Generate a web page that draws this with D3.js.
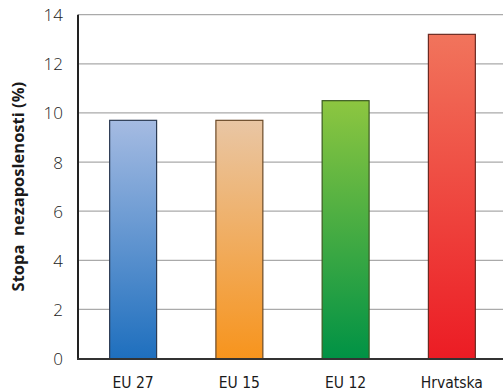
<!DOCTYPE html>
<html>
<head>
<meta charset="utf-8">
<script src="https://cdn.jsdelivr.net/npm/d3@7"></script>
<style>
html,body{margin:0;padding:0;background:#fff;}
svg{display:block;}
</style>
</head>
<body>
<svg id="chart" width="503" height="392"></svg>
<script>
const categories = ["EU 27", "EU 15", "EU 12", "Hrvatska"];
const values = [9.7, 9.7, 10.5, 13.2];
const yTicks = [0, 2, 4, 6, 8, 10, 12, 14];
const topColors = ["#a5bbe2", "#e9c6a4", "#8dc640", "#f1745c"];
const bottomColors = ["#1e6fbe", "#f7941d", "#009245", "#ec1c24"];
const strokeColors = ["#2b3a52", "#6b4a28", "#3a5a20", "#6b2a22"];
const yTitle = "Stopa  nezaposlenosti (%)";

const svg = d3.select("#chart");
const x = d3.scaleBand().domain(categories).range([80, 505]).paddingInner(0.558).paddingOuter(0.279);
const y = d3.scaleLinear().domain([0, 14]).range([358.6, 14.7]);

const defs = svg.append("defs");
categories.forEach((c, i) => {
  const g = defs.append("linearGradient").attr("id", "g" + i)
    .attr("x1", 0).attr("y1", 0).attr("x2", 0).attr("y2", 1);
  g.append("stop").attr("offset", "0%").attr("stop-color", topColors[i]);
  g.append("stop").attr("offset", "100%").attr("stop-color", bottomColors[i]);
});

// gridlines
svg.append("g").selectAll("line").data(yTicks.filter(d => d > 0)).join("line")
  .attr("x1", 78).attr("x2", 503)
  .attr("y1", d => y(d)).attr("y2", d => y(d))
  .attr("stroke", "#aaaaaa").attr("stroke-width", 1.3);

// bars
svg.append("g").selectAll("rect").data(values).join("rect")
  .attr("x", (d, i) => x(categories[i]))
  .attr("width", x.bandwidth())
  .attr("y", d => y(d))
  .attr("height", d => y(0) - y(d))
  .attr("fill", (d, i) => `url(#g${i})`)
  .attr("stroke", (d, i) => strokeColors[i])
  .attr("stroke-width", 1.2);

// y axis
const yAxis = d3.axisLeft(y).tickValues(yTicks).tickSize(0).tickPadding(15);
const ya = svg.append("g").attr("transform", "translate(78,0)").call(yAxis);
ya.select(".domain").remove();
ya.selectAll("text").attr("font-family", "'Open Sans', 'DejaVu Sans', sans-serif")
  .attr("font-size", 17).attr("font-weight", 300).attr("fill", "#222").attr("dy", "0.35em");

// x axis
const xAxis = d3.axisBottom(x).tickSize(0).tickPadding(18);
const xa = svg.append("g").attr("transform", "translate(0,359)").call(xAxis);
xa.select(".domain").remove();
xa.selectAll("text").attr("font-family", "'Liberation Sans Narrow', 'DejaVu Sans Condensed', sans-serif")
  .attr("font-size", 15.5).attr("fill", "#1a1a1a");

// axis lines
svg.append("line").attr("x1", 78).attr("x2", 78).attr("y1", y(14)).attr("y2", 360)
  .attr("stroke", "#222").attr("stroke-width", 2);
svg.append("line").attr("x1", 77).attr("x2", 503).attr("y1", 359).attr("y2", 359)
  .attr("stroke", "#333").attr("stroke-width", 2);

// y title
svg.append("text").attr("transform", `translate(18,${(y(0) + y(14)) / 2}) rotate(-90)`)
  .attr("text-anchor", "middle").attr("dy", "0.35em")
  .attr("font-family", "'Open Sans', 'DejaVu Sans', sans-serif")
  .attr("font-weight", "bold").attr("font-size", 16.5).attr("fill", "#1a1a1a")
  .style("white-space", "pre").attr("xml:space", "preserve")
  .text(yTitle);
</script>
</body>
</html>
